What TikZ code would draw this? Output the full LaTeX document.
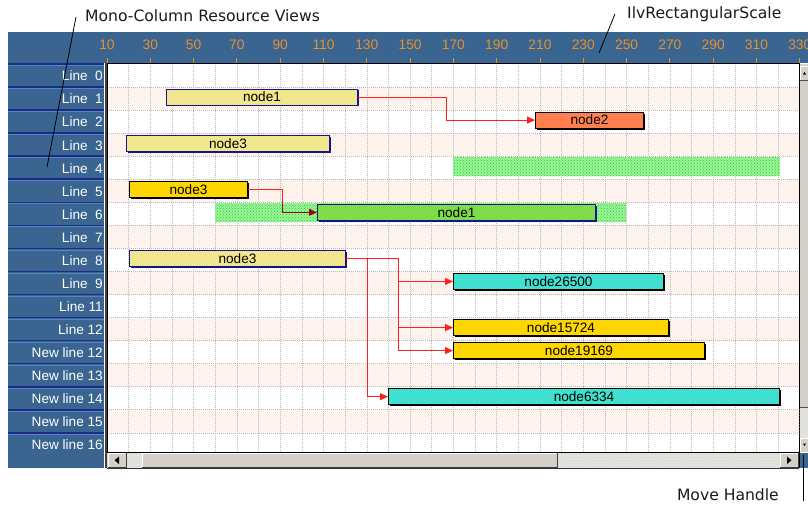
\documentclass[tikz,border=0pt]{standalone}
\usepackage{fontspec}
\setmainfont{Liberation Sans}
\newfontfamily\annfont{DejaVu Sans}
\usetikzlibrary{shadows,patterns,arrows.meta,calc}
\definecolor{hdr}{HTML}{3A6590}
\definecolor{navyline}{HTML}{1E2A88}
\definecolor{lightline}{HTML}{5288C8}
\definecolor{pinkrow}{HTML}{FDF2EC}
\definecolor{scaleorange}{HTML}{E8902C}
\definecolor{khaki}{HTML}{F0E68C}
\definecolor{coral}{HTML}{FF7F50}
\definecolor{gold}{HTML}{FFD700}
\definecolor{turq}{HTML}{40E0D0}
\definecolor{ygreen}{HTML}{7CDD46}
\definecolor{hatchg}{HTML}{9CF59C}
\definecolor{hatchdot}{HTML}{22CC22}
\definecolor{barnavy}{HTML}{14148C}
\definecolor{btngray}{HTML}{D4D0C8}
\definecolor{dither}{HTML}{E6E4DE}
\definecolor{linkred}{HTML}{FF2020}
\definecolor{linkdark}{HTML}{9A0A0A}
\definecolor{anntext}{HTML}{1A1A1A}
\tikzset{
  barbox/.style={draw=#1, line width=1, minimum height=16, inner sep=0, anchor=west,
    font=\fontsize{13.6}{14}\selectfont,
    general shadow={shadow xshift=1.4pt, shadow yshift=-1.4pt, fill=#1}},
  barbox/.default=black,
  rowlabel/.style={anchor=east, inner sep=0, text=white, font=\fontsize{13.6}{14}\selectfont},
  scalelabel/.style={inner sep=0, text=scaleorange, font=\fontsize{13.8}{14}\selectfont},
  anntxt/.style={inner sep=0, text=anntext, font=\annfont\fontsize{15.6}{16}\selectfont},
  leader/.style={draw=black, line width=0.8},
  gridline/.style={draw=black!28, line width=0.6, dash pattern=on 1pt off 1pt},
  link/.style={draw=linkred, line width=1, -{Triangle[length=8pt,width=7pt]}},
  hatchzone/.style={fill=hatchg, postaction={pattern=crosshatch dots, pattern color=hatchdot}},
  ditherzone/.style={fill=dither, postaction={pattern=crosshatch dots, pattern color=black!18}},
  button/.style={fill=btngray},
}
\begin{document}
\begin{tikzpicture}[x=1pt,y=-1pt]
\useasboundingbox (0,0) rectangle (808,504);
\fill[white] (0,0) rectangle (808,504);
% header band and label column
\fill[hdr] (8,32) rectangle (808,63);
\fill[hdr] (8,63) rectangle (104,468);
\draw[black!75, line width=2] (105.5,63) -- (105.5,468);
% scale
\foreach \v in {10,30,...,330} {
  \pgfmathsetmacro\xx{107+(\v-10)*2.165}
  \node[scalelabel] (s\v) at (\xx,44.5) {\v};
  \draw[scaleorange, line width=1] (\xx,58) -- (\xx,63);
}
% chart area
\begin{scope}
\clip (107,63) rectangle (799,452);
\fill[white] (107,63) rectangle (799,452);
\foreach \i in {1,3,...,15} {
  \fill[pinkrow] (107,{64+23.05*\i}) rectangle (799,{64+23.05*(\i+1)});
}
\foreach \k in {1,...,32} {
  \draw[gridline] ({107+21.65*\k},63) -- ({107+21.65*\k},452);
}
\foreach \i in {1,...,16} {
  \draw[gridline] (107,{64+23.05*\i}) -- (799,{64+23.05*\i});
}
% hatched zones
\fill[hatchzone] (453,157) rectangle (780,176);
\fill[hatchzone] (215,203) rectangle (626,222);
\end{scope}
% label cells
\foreach \i/\txt in {0/{Line~~0},1/{Line~~1},2/{Line~~2},3/{Line~~3},4/{Line~~4},5/{Line~~5},6/{Line~~6},7/{Line~~7},8/{Line~~8},9/{Line~~9},10/{Line 11},11/{Line 12},12/{New line 12},13/{New line 13},14/{New line 14},15/{New line 15},16/{New line 16}} {
  \pgfmathsetmacro\tt{64+23.05*\i}
  \draw[navyline, line width=1.6] (8,\tt) -- (104,\tt);
  \draw[lightline, line width=1] (8,\tt+1.6) -- (104,\tt+1.6);
  \node[rowlabel] (lbl\i) at (103,{\tt+12}) {\txt};
}
% chart border
\draw[black, line width=1] (107,63) rectangle (799,452);
% bars
\node[barbox=barnavy, fill=khaki, minimum width=191] (n1a) at (166,97.05) {node1};
\node[barbox, fill=coral, minimum width=108] (n2) at (535,120.1) {node2};
\node[barbox=barnavy, fill=khaki, minimum width=203] (n3a) at (126,143.15) {node3};
\node[barbox, fill=gold, minimum width=118] (n3b) at (129,189.25) {node3};
\node[barbox=barnavy, fill=ygreen, minimum width=278] (n1b) at (317,212.3) {node1};
\node[barbox=barnavy, fill=khaki, minimum width=216] (n3c) at (129,258.4) {node3};
\node[barbox, fill=turq, minimum width=210] (n26) at (453,281.45) {node26500};
\node[barbox, fill=gold, minimum width=215] (n157) at (453,327.55) {node15724};
\node[barbox, fill=gold, minimum width=251] (n191) at (453,350.6) {node19169};
\node[barbox, fill=turq, minimum width=391] (n63) at (388,396.7) {node6334};
% link elbows
\coordinate (e1) at (446,0);
\coordinate (e2) at (282,0);
\coordinate (e3) at (398,0);
\coordinate (e4) at (367,0);
\coordinate (g6) at (0,203);
\draw[link] (n1a.east) -- (n1a.east -| e1) |- (n2.west);
\draw[linkred, line width=1] (n3b.east) -- (n3b.east -| e2) -- (e2 |- g6);
\draw[link, draw=linkdark, -{Triangle[length=8pt,width=7pt,fill=linkdark]}] (e2 |- g6) |- (n1b.west);
\draw[link] (n3c.east) -- (n3c.east -| e3) |- (n26.west);
\draw[link] (n3c.east -| e3) |- (n157.west);
\draw[link] (n3c.east -| e3) |- (n191.west);
\draw[link] (n3c.east -| e4) |- (n63.west);
% vertical scrollbar
\fill[btngray] (799.5,63.5) rectangle (808,452);
\fill[ditherzone] (799.5,407) rectangle (808,438);
\draw[black!70, line width=0.8] (799.5,407) -- (808,407);
\fill[button] (800,65.5) rectangle (808,80);
\draw[white, line width=0.8] (800.5,80) -- (800.5,66) -- (808,66);
\draw[black!70, line width=0.8] (800,80) -- (808,80);
\fill[black] (803,74.5) -- (806,74.5) -- (804.5,72) -- cycle;
\fill[button] (800,438) rectangle (808,451.5);
\draw[white, line width=0.8] (800.5,451) -- (800.5,438.5) -- (808,438.5);
\fill[black] (803,443.5) -- (806,443.5) -- (804.5,446) -- cycle;
% horizontal scrollbar
\fill[btngray] (107,452.5) rectangle (799,468);
\fill[ditherzone] (126,453) rectangle (142,468);
\fill[ditherzone] (557,453) rectangle (780,468);
\draw[white, line width=0.8] (108,467) -- (108,453.5) -- (125,453.5);
\draw[black!75, line width=1] (107.5,467.5) -- (126,467.5) -- (126,453);
\fill[black] (119,456.5) -- (119,464) -- (114.5,460.25) -- cycle;
\draw[white, line width=0.8] (142.5,467) -- (142.5,453.5) -- (556,453.5);
\draw[black!75, line width=1] (142,467.5) -- (557,467.5) -- (557,453);
\draw[white, line width=0.8] (780.5,467) -- (780.5,453.5) -- (798,453.5);
\draw[black!75, line width=1] (780,467.5) -- (798.5,467.5) -- (798.5,453);
\fill[black] (787,456.5) -- (787,464) -- (791.5,460.25) -- cycle;
\draw[black!80, line width=1] (107,468.5) -- (799,468.5);
% move handle corner
\fill[hdr] (799.5,452.5) rectangle (808,468);
\draw[black, line width=1] (799,452) -- (799,468);
% annotations
\node[anntxt, anchor=west] (a1) at (85,16) {Mono-Column Resource Views};
\coordinate (a1end) at (47,167);
\draw[leader] (a1.west) ++(-9,1) -- (a1end);
\node[anntxt, anchor=west] (a2) at (627,14) {IlvRectangularScale};
\coordinate (a2end) at (599,53);
\draw[leader] (a2.west) ++(-12,0) -- (a2end);
\node[anntxt, anchor=east] (a3) at (779,495) {Move Handle};
\coordinate (a3top) at (803,455);
\draw[leader] (a3top) -- (a3top |- a3.south);
\end{tikzpicture}
\end{document}
